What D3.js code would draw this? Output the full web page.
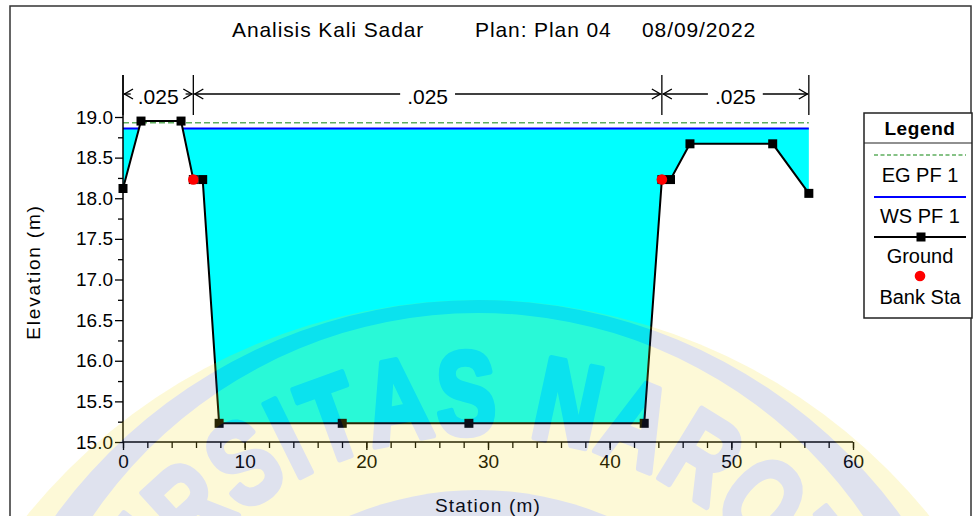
<!DOCTYPE html>
<html>
<head>
<meta charset="utf-8">
<script src="https://cdn.jsdelivr.net/npm/d3@7/dist/d3.min.js"></script>
<style>
  html, body { margin: 0; padding: 0; background: #fff; }
  svg { display: block; font-family: "Liberation Sans", Arial, sans-serif; }
</style>
</head>
<body>
<svg id="chart" width="974" height="516"></svg>
<script>
// Cross-section geometry (station m, elevation m)
const groundStation = [0, 1.48, 4.77, 5.78, 6.55, 7.9, 18.02, 28.43, 42.84, 44.29, 45.0, 46.6, 53.4, 56.37];
const groundElev    = [18.12, 18.95, 18.95, 18.23, 18.23, 15.23, 15.23, 15.23, 15.23, 18.23, 18.23, 18.67, 18.67, 18.06];
const bankStation   = [5.78, 44.29];
const bankElev      = [18.23, 18.23];
// Profile results
const wsElev = 18.86;   // WS PF 1
const egElev = 18.93;   // EG PF 1
// Manning's n regions
const nBreaks = [0, 5.78, 44.29, 56.37];
const nValues = [".025", ".025", ".025"];
// Axis ticks
const xMajorTicks = [0, 10, 20, 30, 40, 50, 60];
const xMinorTicks = [0, 2, 4, 6, 8, 10, 12, 14, 16, 18, 20, 22, 24, 26, 28, 30, 32, 34, 36, 38, 40, 42, 44, 46, 48, 50, 52, 54, 56, 58, 60];
const yMajorTicks = [15.0, 15.5, 16.0, 16.5, 17.0, 17.5, 18.0, 18.5, 19.0];
const yMinorTicks = [15.25, 15.75, 16.25, 16.75, 17.25, 17.75, 18.25, 18.75];
const legendItems = ["EG PF 1", "WS PF 1", "Ground", "Bank Sta"];

const svg = d3.select("#chart");
const x = d3.scaleLinear().domain([0, 60]).range([123, 853]);
const y = d3.scaleLinear().domain([15, 19]).range([442, 117]);

// outer frame
svg.append("rect").attr("x", 10).attr("y", 6).attr("width", 961).attr("height", 530)
  .attr("fill", "none").attr("stroke", "#333").attr("stroke-width", 1.5);

// title
const title = svg.append("g").attr("font-size", 21).attr("fill", "#000").attr("letter-spacing", 0.9);
title.append("text").attr("x", 232).attr("y", 37).text("Analisis Kali Sadar");
title.append("text").attr("x", 475).attr("y", 37).text("Plan: Plan 04");
title.append("text").attr("x", 642).attr("y", 37).text("08/09/2022");

// points with water-surface crossings inserted
const pts = [];
groundStation.forEach((s, i) => {
  pts.push([s, groundElev[i]]);
  if (i < groundStation.length - 1) {
    const e0 = groundElev[i], e1 = groundElev[i + 1];
    if ((e0 - wsElev) * (e1 - wsElev) < 0) {
      const t = (wsElev - e0) / (e1 - e0);
      pts.push([s + t * (groundStation[i + 1] - s), wsElev]);
    }
  }
});

// water fill
svg.append("path").datum(pts)
  .attr("d", d3.area().x(d => x(d[0])).y0(d => y(d[1])).y1(d => y(Math.max(d[1], wsElev))))
  .attr("fill", "#00ffff");

// energy grade line
svg.append("path").datum([groundStation[0], groundStation[groundStation.length - 1]])
  .attr("d", d3.line().x(d => x(d)).y(() => y(egElev)))
  .attr("stroke", "#5fae5f").attr("stroke-width", 1.6).attr("stroke-dasharray", "6,3").attr("fill", "none");

// water surface
svg.append("path").datum(pts)
  .attr("d", d3.line().defined(d => d[1] <= wsElev + 1e-9).x(d => x(d[0])).y(() => y(wsElev)))
  .attr("stroke", "#0000ff").attr("stroke-width", 2).attr("fill", "none");

// ground
svg.append("path").datum(groundStation.map((s, i) => [s, groundElev[i]]))
  .attr("d", d3.line().x(d => x(d[0])).y(d => y(d[1])))
  .attr("stroke", "#000").attr("stroke-width", 2).attr("fill", "none");
svg.append("g").selectAll("rect").data(groundStation.map((s, i) => [s, groundElev[i]])).join("rect")
  .attr("x", d => x(d[0]) - 4.5).attr("y", d => y(d[1]) - 4.5).attr("width", 9).attr("height", 9).attr("fill", "#000");

// bank stations
svg.append("g").selectAll("circle").data(bankStation.map((s, i) => [s, bankElev[i]])).join("circle")
  .attr("cx", d => x(d[0])).attr("cy", d => y(d[1])).attr("r", 5.3).attr("fill", "#ff0000");

// axes
const axisG = svg.append("g").attr("font-size", 19);
const xMinor = axisG.append("g").attr("transform", "translate(0,442)")
  .call(d3.axisBottom(x).tickValues(xMinorTicks).tickSize(6).tickFormat(""));
const xMajor = axisG.append("g").attr("transform", "translate(0,442)")
  .call(d3.axisBottom(x).tickValues(xMajorTicks).tickSize(8).tickPadding(4).tickFormat(d3.format("d")));
const yMinor = axisG.append("g").attr("transform", "translate(123,0)")
  .call(d3.axisLeft(y).tickValues(yMinorTicks).tickSize(5).tickFormat(""));
const yMajor = axisG.append("g").attr("transform", "translate(123,0)")
  .call(d3.axisLeft(y).tickValues(yMajorTicks).tickSize(8).tickPadding(2).tickFormat(d3.format(".1f")));
[xMinor, xMajor, yMinor, yMajor].forEach(g => {
  g.select(".domain").remove();
  g.selectAll("line").attr("stroke", "#000").attr("stroke-width", 1.3);
  g.selectAll("text").attr("fill", "#000").attr("font-family", "Liberation Sans, Arial, sans-serif").attr("font-size", 19);
});
xMajor.selectAll("text").attr("dy", "0.72em");
axisG.append("line").attr("x1", x(0)).attr("x2", x(60)).attr("y1", 442).attr("y2", 442).attr("stroke", "#000").attr("stroke-width", 1.5);
axisG.append("line").attr("x1", x(0)).attr("x2", x(0)).attr("y1", 442).attr("y2", 75).attr("stroke", "#000").attr("stroke-width", 1.5);

// axis titles
svg.append("text").attr("x", 488).attr("y", 512).attr("text-anchor", "middle").attr("font-size", 19)
  .attr("letter-spacing", 1.2).text("Station (m)");
svg.append("text").attr("transform", "translate(40,272) rotate(-90)").attr("text-anchor", "middle")
  .attr("font-size", 19).attr("letter-spacing", 1.8).text("Elevation (m)");

// Manning's n brackets
const nG = svg.append("g");
nBreaks.forEach(s => {
  nG.append("line").attr("x1", x(s)).attr("x2", x(s)).attr("y1", 75).attr("y2", 115)
    .attr("stroke", "#000").attr("stroke-width", 1.3);
});
const arrowY = 94;
nValues.forEach((v, i) => {
  const a = x(nBreaks[i]), b = x(nBreaks[i + 1]), mid = (a + b) / 2;
  const t = nG.append("text").attr("x", mid).attr("y", 104).attr("text-anchor", "middle")
    .attr("font-size", 21).text(v);
  const half = t.node().getComputedTextLength() / 2 + 7;
  const segs = [[a + 1, mid - half], [mid + half, b - 1]];
  segs.forEach(([p, q]) => {
    if (q > p) nG.append("line").attr("x1", p).attr("x2", q).attr("y1", arrowY).attr("y2", arrowY)
      .attr("stroke", "#000").attr("stroke-width", 1.3);
  });
  // open arrowheads pointing at each bound
  nG.append("path").attr("d", `M${a + 10},${arrowY - 5}L${a + 1.5},${arrowY}L${a + 10},${arrowY + 5}`)
    .attr("fill", "none").attr("stroke", "#000").attr("stroke-width", 1.4);
  nG.append("path").attr("d", `M${b - 10},${arrowY - 5}L${b - 1.5},${arrowY}L${b - 10},${arrowY + 5}`)
    .attr("fill", "none").attr("stroke", "#000").attr("stroke-width", 1.4);
});

// legend
const lg = svg.append("g");
lg.append("rect").attr("x", 864).attr("y", 113).attr("width", 108).attr("height", 205)
  .attr("fill", "#fff").attr("stroke", "#222").attr("stroke-width", 1.5);
lg.append("line").attr("x1", 864).attr("x2", 972).attr("y1", 143).attr("y2", 143).attr("stroke", "#222").attr("stroke-width", 1.2);
lg.append("text").attr("x", 920).attr("y", 135).attr("text-anchor", "middle").attr("font-size", 19)
  .attr("font-weight", "bold").attr("letter-spacing", 0.6).text("Legend");
lg.append("line").attr("x1", 874).attr("x2", 966).attr("y1", 155).attr("y2", 155)
  .attr("stroke", "#5fae5f").attr("stroke-width", 1.4).attr("stroke-dasharray", "4,2.5");
lg.append("line").attr("x1", 874).attr("x2", 966).attr("y1", 197).attr("y2", 197)
  .attr("stroke", "#0000ff").attr("stroke-width", 2);
lg.append("line").attr("x1", 874).attr("x2", 966).attr("y1", 237).attr("y2", 237)
  .attr("stroke", "#000").attr("stroke-width", 2);
lg.append("rect").attr("x", 916.5).attr("y", 232.5).attr("width", 9).attr("height", 9).attr("fill", "#000");
lg.append("circle").attr("cx", 920).attr("cy", 276).attr("r", 5.3).attr("fill", "#ff0000");
const legendY = [182, 223, 263, 304];
legendItems.forEach((t, i) => {
  lg.append("text").attr("x", 920).attr("y", legendY[i]).attr("text-anchor", "middle")
    .attr("font-size", 20).attr("xml:space", "preserve").text(t);
});

// translucent institutional seal laid over the plot
const cx = 478, cy = 822;
const yellow = "rgb(243,220,23)", navy = "rgb(67,83,155)";
const seal = svg.append("g").attr("opacity", 0.17);
seal.append("circle").attr("cx", cx).attr("cy", 880).attr("r", 580).attr("fill", yellow);
// outer band: between two offset circles, so it thins toward the top
seal.append("path")
  .attr("d", `M${cx - 522},${cy}a522,522 0 1,0 1044,0a522,522 0 1,0 -1044,0Z` +
             `M${cx - 467},780a467,467 0 1,1 934,0a467,467 0 1,1 -934,0Z`)
  .attr("fill", navy).attr("fill-rule", "evenodd");
seal.append("circle").attr("cx", cx).attr("cy", cy).attr("r", 332).attr("fill", navy);

// lettering around the ring, spaced by glyph width
const sealText = "UNIVERSITAS NAROTAMA";
const fs = 118, sx = 0.76, track = 8, rMid = 430, rBase = 388;
const probe = svg.append("text").attr("font-size", fs).attr("font-weight", "bold");
const widths = sealText.split("").map(ch => {
  probe.text(ch === " " ? "\u00a0" : ch);
  return probe.node().getComputedTextLength() * sx + track;
});
probe.remove();
const centers = [];
let acc = 0;
widths.forEach(w => { centers.push(acc + w / 2); acc += w; });
const degPerPx = 180 / Math.PI / rMid;
const offset = -1.6 - centers[10] * degPerPx;   // the "S" before the gap sits just left of top
const lettering = seal.append("g").attr("transform", `translate(${cx},${cy})`);
sealText.split("").forEach((ch, i) => {
  if (ch === " ") return;
  const ang = offset + centers[i] * degPerPx;
  lettering.append("text")
    .attr("transform", `rotate(${ang}) translate(0,-${rBase}) scale(${sx},1)`)
    .attr("text-anchor", "middle").attr("font-size", fs).attr("font-weight", "bold")
    .attr("fill", navy).attr("stroke", navy).attr("stroke-width", 6).attr("stroke-linejoin", "round")
    .text(ch);
});
</script>
</body>
</html>
